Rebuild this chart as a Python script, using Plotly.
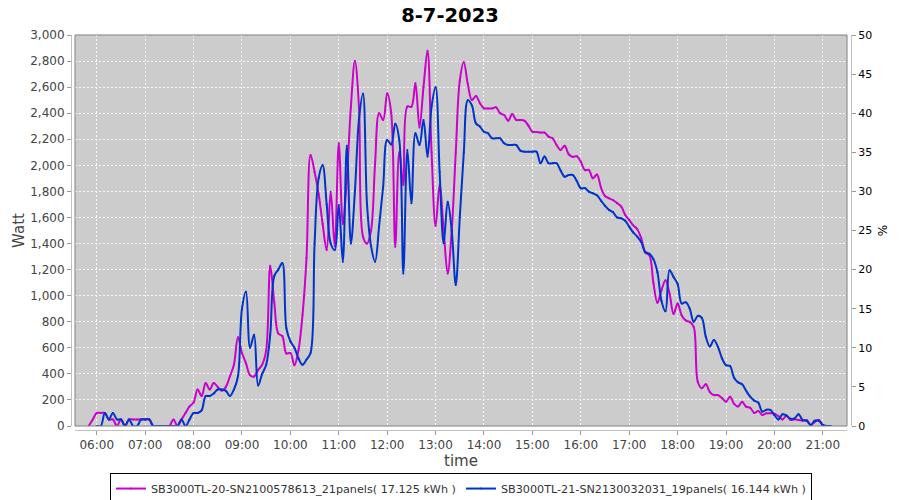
import pandas as pd
import plotly.graph_objects as go

# 5-minute samples from 05:50 to 21:10
times = pd.date_range("2023-07-08 05:50", "2023-07-08 21:10", freq="5min")

inv20_name = "SB3000TL-20-SN2100578613_21panels( 17.125 kWh )"
inv21_name = "SB3000TL-21-SN2130032031_19panels( 16.144 kWh )"

inv20_watt = [
    0, 50, 100, 100, 100, 50, 50, 0, 50, 0, 50, 50,               # 05:50-06:45
    50, 50, 50, 50, 0, 0, 0, 0, 0, 50,                            # 06:50-07:35
    0, 50, 100, 150, 180, 280, 230, 330, 280, 330, 300, 270,      # 07:40-08:35
    300, 380, 470, 680, 560, 480, 390, 380, 430, 470, 580, 1230,  # 08:40-09:35
    950, 710, 690, 557, 560, 467, 580, 850, 1290, 2080, 1950, 1780,  # 09:40-10:35
    1550, 1350, 1798, 1380, 2169, 1550, 1900, 2450, 2800, 2450, 1453, 1400,  # 10:40-11:35
    1500, 2015, 2399, 2348, 2553, 2400, 1376, 2100, 1850, 2451, 2450, 2630,  # 11:40-12:35
    2290, 2600, 2880, 2100, 1535, 1850, 1500, 1171, 1500, 2100, 2650, 2790,  # 12:40-13:35
    2620, 2501, 2532, 2476, 2437, 2437, 2437, 2445, 2399, 2386, 2343, 2394,  # 13:40-14:35
    2348, 2348, 2343, 2305, 2258, 2255, 2251, 2251, 2220, 2207, 2156, 2118,  # 14:40-15:35
    2150, 2085, 2065, 2070, 2028, 1964, 1965, 1900, 1930, 1830, 1765, 1747,  # 15:40-16:35
    1733, 1710, 1685, 1620, 1581, 1540, 1510, 1440, 1330, 1310, 1100, 945,   # 16:40-17:35
    1042, 1118, 1016, 860, 940, 850, 810, 799, 760, 340, 290, 320,           # 17:40-18:35
    260, 237, 237, 215, 186, 225, 170, 150, 186, 148, 140, 100,              # 18:40-19:35
    115, 84, 97, 97, 95, 75, 50, 80, 46, 51, 46, 41,                         # 19:40-20:35
    46, 8, 30, 46, 0, None, None,                                            # 20:40-21:10
]

inv21_watt = [
    None, None, 0, 0, 100, 50, 100, 50, 50, 0, 50, 0,             # 05:50-06:45
    0, 50, 50, 50, 0, 0, 0, 0, 0, 0,                              # 06:50-07:35
    0, 50, 0, 50, 100, 100, 120, 230, 230, 250, 280, 280,         # 07:40-08:35
    270, 230, 280, 380, 900, 1030, 600, 700, 310, 400, 470, 700,  # 08:40-09:35
    1150, 1200, 1250, 750, 650, 600, 520, 470, 510, 560, 1400, 1900,  # 09:40-10:35
    2000, 1700, 1400, 1350, 1696, 1261, 2150, 1400, 1800, 2350, 2550, 1700,  # 10:40-11:35
    1380, 1261, 1535, 1836, 2194, 2160, 2320, 2194, 1171, 2118, 1709, 2246,  # 11:40-12:35
    2156, 2348, 2067, 2450, 2600, 1950, 1402, 1721, 1500, 1082, 1600, 2100,  # 12:40-13:35
    2500, 2460, 2322, 2297, 2258, 2246, 2207, 2207, 2207, 2169, 2156, 2156,  # 13:40-14:35
    2156, 2113, 2105, 2105, 2105, 2105, 2016, 2067, 2016, 2016, 2016, 1960,  # 14:40-15:35
    1913, 1926, 1926, 1880, 1824, 1826, 1798, 1785, 1770, 1730, 1690, 1658,  # 15:40-16:35
    1640, 1600, 1594, 1575, 1530, 1485, 1453, 1410, 1335, 1322, 1280, 1180,  # 16:40-17:35
    960, 880, 1195, 1144, 1090, 940, 950, 901, 799, 845, 830, 684,           # 17:40-18:35
    610, 659, 608, 520, 467, 460, 370, 335, 320, 270, 225, 195,              # 18:40-19:35
    180, 110, 125, 123, 84, 50, 90, 80, 55, 59, 90, 46,                      # 19:40-20:35
    40, 8, 40, 40, 8, 0, 0,                                                  # 20:40-21:10
]

hour_ticks = pd.date_range("2023-07-08 06:00", "2023-07-08 21:00", freq="1h")

fig = go.Figure()
for name, watt, color in [
    (inv20_name, inv20_watt, "#CC00CC"),
    (inv21_name, inv21_watt, "#0033CC"),
]:
    fig.add_trace(
        go.Scatter(
            x=times, y=watt, name=name, mode="lines+markers",
            line={"color": color, "width": 2, "shape": "spline", "smoothing": 1.0},
            marker={"color": color, "size": 2},
            connectgaps=False,
        )
    )
# invisible trace so the right % axis gets drawn
fig.add_trace(go.Scatter(x=[times[0]], y=[0], yaxis="y2", mode="markers",
                         marker={"opacity": 0}, showlegend=False, hoverinfo="skip"))

# the page body has an 8px margin, so the figure is 8px smaller than the window
W, H = 892, 492
tick_font = {"family": "DejaVu Sans", "size": 12, "color": "#444444"}
grid = {"showgrid": True, "gridcolor": "rgba(255,255,255,0.85)", "griddash": "2px,2px",
        "gridwidth": 1, "zeroline": False}
fig.update_layout(
    width=W, height=H,
    paper_bgcolor="white", plot_bgcolor="#CCCCCC",
    margin={"l": 63, "r": 49, "t": 27, "b": 70, "autoexpand": False},
    title={"text": "<b>8-7-2023</b>", "x": 442 / W, "xanchor": "center",
           "y": 1, "yanchor": "top",
           "font": {"family": "DejaVu Sans", "size": 19.5, "color": "black"}},
    xaxis={
        "domain": [4 / 780, 776 / 780], "anchor": "free", "position": 0,
        "range": ["2023-07-08 05:33", "2023-07-08 21:30"],
        "tickvals": hour_ticks, "tickformat": "%H:%M",
        "tickfont": tick_font, "ticks": "outside", "ticklen": 4, "tickcolor": "#999999",
        "showline": True, "linecolor": "#C0C0C0", "linewidth": 1,
        **grid,
        "title": {"text": "time", "font": {"family": "DejaVu Sans", "size": 15, "color": "#444444"},
                  "standoff": 3},
    },
    yaxis={
        "domain": [4 / 395, 1], "anchor": "free", "position": 0,
        "range": [0, 3000], "dtick": 200, "tickformat": ",",
        "tickfont": tick_font, "ticks": "outside", "ticklen": 4, "tickcolor": "#999999",
        "showline": True, "linecolor": "#C0C0C0", "linewidth": 1,
        **grid,
        "title": {"text": "Watt", "font": {"family": "DejaVu Sans", "size": 15, "color": "#444444"},
                  "standoff": 0},
    },
    yaxis2={
        "domain": [4 / 395, 1], "overlaying": "y", "side": "right",
        "anchor": "free", "position": 1,
        "range": [0, 50], "dtick": 5,
        "tickfont": {"family": "DejaVu Sans", "size": 11, "color": "black"},
        "ticks": "outside", "ticklen": 4, "tickcolor": "#999999",
        "showline": True, "linecolor": "#C0C0C0", "linewidth": 1,
        "showgrid": False, "zeroline": False,
        "title": {"text": "%", "font": {"family": "DejaVu Sans", "size": 12, "color": "black"},
                  "standoff": 7},
    },
    legend={
        "orientation": "h", "x": 0.5, "xanchor": "center", "y": -0.109, "yanchor": "top",
        "bordercolor": "black", "borderwidth": 1,
        "font": {"family": "DejaVu Sans", "size": 11.2, "color": "#333333"},
        "itemwidth": 30, "tracegroupgap": 0,
    },
    showlegend=True,
)
# dark outline around the plotting area
fig.add_shape(type="rect", xref="x domain", yref="y domain", x0=0, x1=1, y0=0, y1=1,
              line={"color": "#808080", "width": 1}, layer="above")

fig.write_html("out.html")
